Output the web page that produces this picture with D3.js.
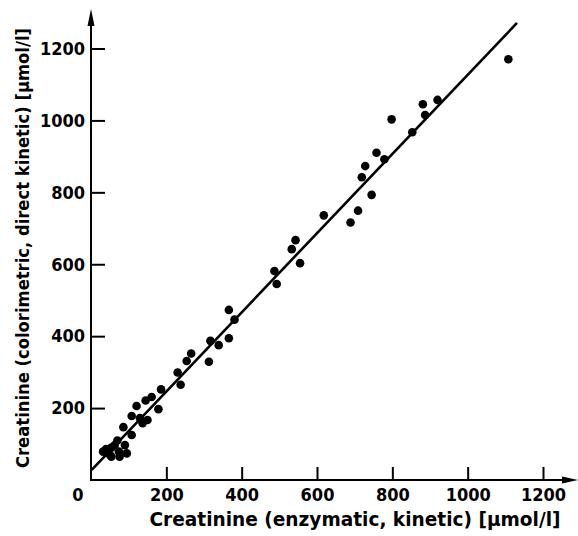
<!DOCTYPE html>
<html><head><meta charset="utf-8">
<script src="https://cdn.jsdelivr.net/npm/d3@7"></script>
<style>body{margin:0;background:#fff}svg{display:block}</style>
</head><body>
<svg id="chart" width="578" height="536"></svg>
<script>
// Creatinine, enzymatic kinetic method (x) [µmol/l]
const enzymatic = [1108, 920, 881, 887, 798, 853, 758, 779, 728, 719, 745, 709, 618, 689,
  543, 533, 555, 487, 493, 366, 381, 366, 317, 339, 266, 254, 313, 230, 238, 186,
  161, 145, 121, 179, 108, 130, 150, 137, 86, 108, 70, 63, 90, 40, 32, 54, 50, 74, 95, 54, 76];
// Creatinine, colorimetric direct kinetic method (y) [µmol/l]
const colorimetric = [1170, 1057, 1045, 1015, 1003, 967, 910, 892, 873, 842, 793, 749, 736, 716,
  667, 642, 603, 581, 545, 473, 446, 394, 387, 375, 352, 331, 329, 299, 265, 252,
  231, 221, 206, 197, 178, 172, 167, 158, 147, 125, 110, 97, 97, 86, 79, 90, 70, 79, 74, 65, 65];
// regression line end points
const fitX = [2, 1131];
const fitY = [28, 1271];
const tickValues = [200, 400, 600, 800, 1000, 1200];
const originLabel = "0";
const xTitle = "Creatinine (enzymatic, kinetic) [\u03bcmol/l]";
const yTitle = "Creatinine (colorimetric, direct kinetic) [\u03bcmol/l]";

const font = "'DejaVu Sans Condensed','DejaVu Sans',sans-serif";
const svg = d3.select("#chart");
const x = d3.scaleLinear().domain([0, 1200]).range([91, 543]);
const y = d3.scaleLinear().domain([0, 1200]).range([480, 48.5]);
const x0 = 91, y0 = 480;

// axes
const gx = svg.append("g").attr("transform", `translate(0,${y0})`)
  .call(d3.axisBottom(x).tickValues(tickValues).tickFormat(d3.format("d"))
    .tickSizeInner(-13).tickSizeOuter(0).tickPadding(8));
const gy = svg.append("g").attr("transform", `translate(${x0},0)`)
  .call(d3.axisLeft(y).tickValues(tickValues).tickFormat(d3.format("d"))
    .tickSizeInner(-14).tickSizeOuter(0).tickPadding(6));
[gx, gy].forEach(g => {
  g.select(".domain").remove();
  g.selectAll(".tick line").attr("stroke", "#000").attr("stroke-width", 2);
  g.selectAll(".tick text").attr("fill", "#000").style("font-family", font)
    .style("font-size", "18px").style("font-weight", "bold");
});

// axis lines with arrows
svg.append("line").attr("x1", x0).attr("y1", y0 + 1).attr("x2", x0).attr("y2", 20)
  .attr("stroke", "#000").attr("stroke-width", 2);
svg.append("path").attr("d", `M${x0},9 L${x0 - 3.5},26 L${x0 + 3.5},26 Z`).attr("fill", "#000");
svg.append("line").attr("x1", x0 - 1).attr("y1", y0).attr("x2", 568).attr("y2", y0)
  .attr("stroke", "#000").attr("stroke-width", 2);
svg.append("path").attr("d", `M578,${y0} L562,${y0 - 3.5} L562,${y0 + 3.5} Z`).attr("fill", "#000");

svg.append("text").attr("x", 78).attr("y", 501).attr("text-anchor", "middle")
  .style("font-family", font).style("font-size", "18px").style("font-weight", "bold").text(originLabel);

// regression line
svg.append("line")
  .attr("x1", x(fitX[0])).attr("y1", y(fitY[0]))
  .attr("x2", x(fitX[1])).attr("y2", y(fitY[1]))
  .attr("stroke", "#000").attr("stroke-width", 2.6);

// points
svg.append("g").selectAll("circle").data(enzymatic).join("circle")
  .attr("cx", d => x(d)).attr("cy", (d, i) => y(colorimetric[i]))
  .attr("r", 4.3).attr("fill", "#000");

// titles
svg.append("text").attr("x", 355).attr("y", 526).attr("text-anchor", "middle")
  .attr("textLength", 411).attr("lengthAdjust", "spacingAndGlyphs")
  .style("font-family", font).style("font-size", "19px").style("font-weight", "bold").text(xTitle);
svg.append("text").attr("transform", "translate(29,248) rotate(-90)").attr("text-anchor", "middle")
  .attr("textLength", 440).attr("lengthAdjust", "spacingAndGlyphs")
  .style("font-family", font).style("font-size", "18px").style("font-weight", "bold").text(yTitle);
</script>
</body></html>
